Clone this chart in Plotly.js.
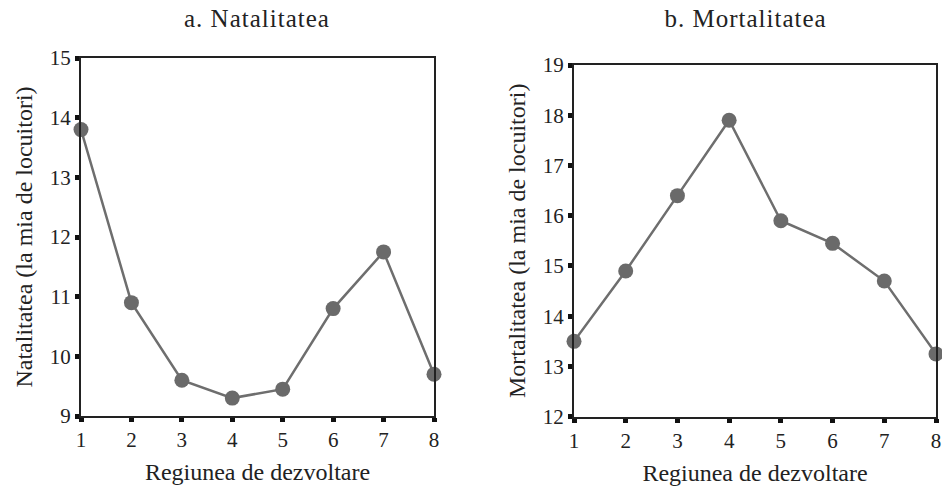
<!DOCTYPE html>
<html><head><meta charset="utf-8">
<script src="https://cdn.plot.ly/plotly-3.0.1.min.js"></script>
<style>body{margin:0;background:#fff}#c{width:942px;height:492px}
.infolayer .annotation-text{letter-spacing:1px}</style>
</head><body><div id="c"></div>
<script>
const regions = [1,2,3,4,5,6,7,8];
const natalitate = [13.8,10.9,9.6,9.3,9.45,10.8,11.75,9.7];
const mortalitate = [13.5,14.9,16.4,17.9,15.9,15.45,14.7,13.25];
const titles = ["a. Natalitatea","b. Mortalitatea"];
const yTitles = ["Natalitatea (la mia de locuitori)","Mortalitatea (la mia de locuitori)"];
const xTitle = "Regiunea de dezvoltare";

const FAM = "Liberation Serif, Times New Roman, serif";
const font = {family:FAM, color:"#222"};
const tickFont = {family:FAM, size:21, color:"#222"};
const lineC = "#6e6e6e", markC = "#6a6a6a";
function tr(y, xa, ya){
  return {x:regions, y:y, xaxis:xa, yaxis:ya, type:"scatter", mode:"lines+markers",
    line:{color:lineC,width:2.5}, marker:{color:markC,size:15}, cliponaxis:false, showlegend:false};
}
function xax(dom, anchor){
  return {domain:dom, anchor:anchor, range:[1,8], tickvals:regions, ticks:"outside", ticklen:4, tickwidth:5,
    tickcolor:"#111", showline:true, linecolor:"#222", linewidth:2, mirror:true, showgrid:false, zeroline:false,
    tickfont:tickFont, title:{text:xTitle, font:{family:FAM, size:24, color:"#222"}, standoff:12}};
}
function yax(dom, anchor, rng, yt){
  return {domain:dom, anchor:anchor, range:rng, dtick:1, tick0:0, ticks:"outside", ticklen:4, tickwidth:5,
    tickcolor:"#111", showline:true, linecolor:"#222", linewidth:2, mirror:true, showgrid:false, zeroline:false,
    tickfont:tickFont, title:{text:yt, font:{family:FAM, size:24, color:"#222"}, standoff:10}};
}
const layout = {
  width:942, height:492, margin:{l:0,r:0,t:0,b:0}, paper_bgcolor:"#fff", plot_bgcolor:"#fff", font:font,
  xaxis: xax([81/942, 434/942], "y"),
  yaxis: yax([76/492, 434/492], "x", [9,15], yTitles[0]),
  xaxis2: xax([574/942, 936/942], "y2"),
  yaxis2: yax([75.3/492, 427/492], "x2", [12,19], yTitles[1]),
  annotations:[
    {text:titles[0], x:257/942, y:1-19/492, xref:"paper", yref:"paper", showarrow:false, font:{family:FAM, size:25, color:"#222"}, xanchor:"center", yanchor:"middle"},
    {text:titles[1], x:745/942, y:1-19/492, xref:"paper", yref:"paper", showarrow:false, font:{family:FAM, size:25, color:"#222"}, xanchor:"center", yanchor:"middle"}
  ]
};
Plotly.newPlot("c", [tr(natalitate,"x","y"), tr(mortalitate,"x2","y2")], layout, {displayModeBar:false, staticPlot:true});
</script></body></html>
